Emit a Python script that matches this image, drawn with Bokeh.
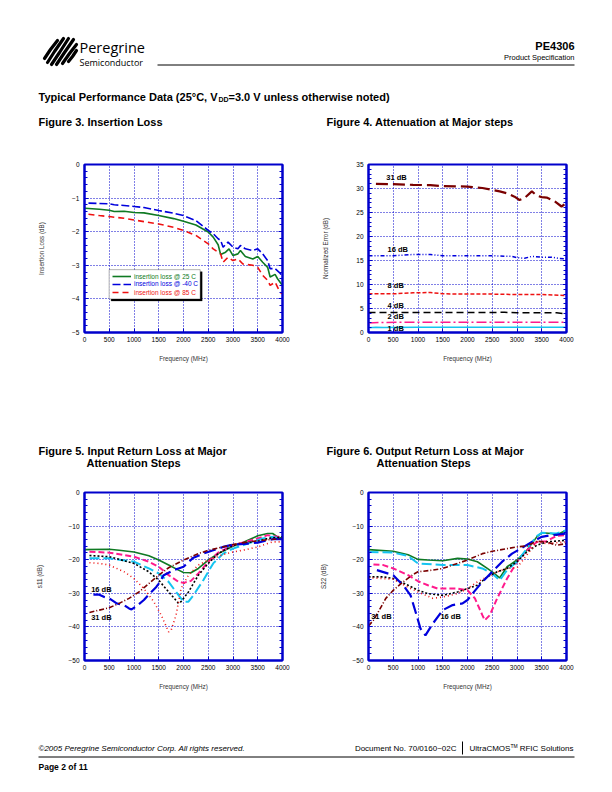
from bokeh.plotting import figure
from bokeh.layouts import column, row
from bokeh.models import Range1d, FixedTicker, LinearAxis, BoxAnnotation, Legend, LegendItem
from bokeh.embed import file_html
from bokeh.resources import INLINE
from bokeh.core.properties import value

FONT = "Liberation Sans"
BLUE_FRAME = "#0000cc"

# ---------------- data: Figure 3 insertion loss ----------------
IL_FREQ_25 = [10, 300, 500, 600, 800, 1000, 1200, 1500, 1800, 2000, 2250, 2500, 2600, 2700, 2750, 2850, 2920, 3000, 3100, 3150, 3250, 3400, 3500, 3600, 3700, 3750, 3850, 3900, 4000]
IL_25 = [-1.30, -1.33, -1.36, -1.40, -1.39, -1.43, -1.44, -1.52, -1.61, -1.69, -1.80, -2.01, -2.16, -2.39, -2.68, -2.61, -2.51, -2.71, -2.66, -2.56, -2.74, -2.81, -2.74, -2.91, -3.06, -3.35, -3.27, -3.40, -3.60]
IL_FREQ_M40 = [80, 300, 500, 600, 800, 1000, 1200, 1500, 1800, 2000, 2250, 2500, 2600, 2700, 2750, 2800, 2900, 3000, 3100, 3150, 3250, 3400, 3500, 3600, 3700, 3750, 3850, 3950, 4000]
IL_M40 = [-1.15, -1.16, -1.17, -1.20, -1.22, -1.25, -1.28, -1.37, -1.45, -1.52, -1.67, -1.96, -2.06, -2.21, -2.26, -2.46, -2.31, -2.46, -2.51, -2.41, -2.51, -2.56, -2.51, -2.66, -2.86, -3.10, -3.10, -3.23, -3.35]
IL_FREQ_85 = [80, 300, 500, 600, 800, 1000, 1200, 1500, 1800, 2000, 2250, 2500, 2600, 2750, 2800, 2900, 3000, 3100, 3200, 3400, 3500, 3600, 3700, 3750, 3850, 3950, 4000]
IL_85 = [-1.48, -1.52, -1.55, -1.57, -1.60, -1.65, -1.70, -1.77, -1.87, -1.96, -2.11, -2.36, -2.51, -2.66, -2.91, -2.76, -2.86, -2.81, -2.96, -3.00, -3.06, -3.30, -3.45, -3.60, -3.50, -3.80, -3.85]
IL_LABELS = ["insertion loss @ 25 C", "insertion loss @ -40 C", "insertion loss @ 85 C"]

# ---------------- data: Figure 4 attenuation ----------------
AT_FREQ_31 = [150, 500, 900, 1250, 1500, 2000, 2100, 2300, 2500, 2650, 2800, 2950, 3050, 3150, 3300, 3400, 3500, 3600, 3750, 3900, 4000]
AT_31 = [30.97, 30.9, 30.76, 30.7, 30.5, 30.4, 30.3, 30.1, 29.7, 29.4, 29.0, 28.3, 27.6, 28.0, 29.4, 28.5, 28.2, 28.1, 27.4, 26.25, 27.0]
AT_FREQ_16 = [0, 500, 900, 1250, 1500, 2000, 2500, 2900, 3000, 3150, 3300, 3500, 3700, 3850, 4000]
AT_16 = [16.0, 16.0, 16.25, 16.25, 16.0, 16.0, 16.0, 15.85, 15.6, 15.45, 15.85, 15.7, 15.7, 15.45, 15.35]
AT_FREQ_8 = [0, 500, 900, 1250, 1500, 2000, 2500, 3000, 3500, 4000]
AT_8 = [8.06, 8.06, 8.26, 8.33, 8.06, 8.0, 8.0, 7.9, 7.9, 7.7]
AT_FREQ_4 = [0, 1000, 2000, 2750, 3000, 3500, 3800, 4000]
AT_4 = [4.15, 4.15, 4.15, 4.2, 4.1, 4.1, 4.1, 3.9]
AT_FREQ_2 = [0, 300, 1000, 2000, 3000, 4000]
AT_2 = [2.0, 2.1, 2.15, 2.15, 2.15, 2.15]
AT_FREQ_1 = [0, 150, 300, 1000, 2000, 3000, 4000]
AT_1 = [1.0, 1.1, 1.05, 1.1, 1.1, 1.1, 1.1]
AT_STEP_LABELS = ["31 dB", "16 dB", "8 dB", "4 dB", "2 dB", "1 dB"]

# ---------------- data: Figure 5 s11 ----------------
S11_F_GREEN = [0, 500, 700, 1000, 1300, 1500, 1700, 1900, 2000, 2150, 2300, 2500, 2700, 3000, 3200, 3500, 3700, 3800, 3900, 4000]
S11_GREEN = [-17.0, -16.9, -17.2, -17.7, -18.8, -20.1, -21.6, -23.1, -23.8, -23.9, -22.6, -20.1, -18.2, -16.0, -14.9, -12.9, -12.2, -12.2, -13.2, -13.7]
S11_F_PINK = [100, 500, 1000, 1300, 1500, 1700, 1900, 2000, 2150, 2300, 2500, 2700, 3000, 3300, 3500, 3700, 3900, 4000]
S11_PINK = [-17.6, -17.9, -19.1, -20.6, -22.1, -24.6, -26.6, -26.9, -26.3, -24.1, -20.6, -17.9, -15.7, -14.5, -13.7, -12.7, -13.2, -13.2]
S11_F_CYAN = [100, 500, 1000, 1300, 1500, 1700, 1850, 1950, 2000, 2100, 2200, 2400, 2600, 2800, 3000, 3300, 3600, 3800, 4000]
S11_CYAN = [-19.6, -19.6, -20.6, -22.6, -24.1, -26.6, -29.6, -31.5, -32.5, -32.5, -30.6, -26.1, -21.1, -18.2, -16.7, -15.2, -13.7, -13.2, -13.9]
S11_F_BLACK = [100, 500, 1000, 1300, 1500, 1700, 1900, 1950, 2100, 2300, 2500, 2700, 3000, 3300, 3500, 3700, 4000]
S11_BLACK = [-18.75, -19.1, -21.1, -23.6, -26.1, -29.6, -33.0, -32.5, -29.6, -24.6, -21.1, -18.2, -15.7, -14.9, -14.5, -13.7, -13.2]
S11_F_RED = [100, 300, 500, 800, 1000, 1200, 1400, 1550, 1700, 1750, 1850, 1950, 2100, 2300, 2500, 2800, 3000, 3200, 3500, 3800, 4000]
S11_RED = [-20.9, -21.1, -21.6, -23.6, -25.6, -28.6, -32.5, -36.5, -41.5, -41.0, -36.5, -28.6, -24.6, -21.6, -20.1, -18.5, -17.7, -17.2, -16.2, -14.7, -14.7]
S11_F_16DB = [180, 300, 400, 500, 650, 800, 900, 950, 1050, 1200, 1350, 1450, 1500, 1600, 1800, 1900, 2000, 2200, 2400, 2600, 2800, 3000, 3300, 3500, 3800, 4000]
S11_16DB = [-30.4, -30.4, -31.1, -31.5, -33.0, -33.5, -34.5, -34.8, -33.8, -32.0, -29.6, -28.1, -27.1, -24.6, -23.1, -22.6, -22.1, -19.4, -18.2, -17.2, -16.2, -15.5, -15.2, -14.9, -13.9, -13.9]
S11_F_31DB = [100, 300, 500, 700, 900, 1100, 1300, 1500, 1700, 2000, 2300, 2500, 2800, 3000, 3300, 3600, 4000]
S11_31DB = [-35.7, -35.0, -34.3, -33.0, -31.5, -29.6, -27.1, -24.6, -22.4, -20.1, -18.2, -17.2, -16.2, -15.5, -14.7, -14.2, -13.7]

# ---------------- data: Figure 6 S22 ----------------
S22_F_GREEN = [0, 500, 800, 1000, 1200, 1500, 1800, 2000, 2200, 2400, 2500, 2650, 2800, 3000, 3200, 3400, 3500, 3700, 3800, 3900, 4000]
S22_GREEN = [-17.0, -17.5, -18.5, -19.9, -20.1, -20.3, -19.6, -19.8, -20.6, -22.6, -23.6, -25.4, -22.1, -20.1, -17.2, -13.2, -12.0, -12.2, -12.7, -11.9, -11.2]
S22_F_CYAN = [0, 500, 800, 1000, 1500, 2000, 2300, 2500, 2650, 2800, 3000, 3200, 3400, 3500, 3800, 4000]
S22_CYAN = [-17.7, -17.9, -18.9, -21.1, -21.6, -21.6, -22.6, -24.1, -26.1, -23.1, -20.6, -16.7, -13.0, -12.0, -12.2, -11.2]
S22_F_PINK = [100, 300, 500, 800, 1000, 1200, 1400, 1800, 2000, 2150, 2300, 2350, 2450, 2600, 2800, 3000, 3200, 3400, 3600, 3800, 4000]
S22_PINK = [-21.4, -21.6, -22.6, -24.6, -26.4, -27.6, -28.6, -28.6, -29.1, -31.5, -36.5, -38.0, -36.5, -31.5, -25.6, -20.6, -17.2, -14.7, -14.5, -12.9, -12.7]
S22_F_BLACK = [0, 300, 500, 800, 1000, 1200, 1500, 1800, 2000, 2200, 2400, 2600, 2800, 3000, 3200, 3400, 3600, 4000]
S22_BLACK = [-25.1, -25.1, -25.6, -27.6, -29.1, -30.1, -30.6, -29.6, -28.6, -27.6, -25.1, -23.6, -22.6, -20.6, -17.7, -15.7, -14.7, -14.2]
S22_F_RED = [0, 300, 500, 800, 1000, 1300, 1500, 1800, 2000, 2200, 2400, 2600, 2800, 3000, 3200, 3400, 3600, 4000]
S22_RED = [-25.4, -25.6, -25.8, -28.2, -29.6, -31.5, -31.1, -30.1, -28.6, -26.6, -25.1, -23.6, -22.6, -22.4, -18.6, -14.7, -15.2, -14.7]
S22_F_16DB = [170, 500, 700, 850, 950, 1050, 1150, 1300, 1500, 1700, 1900, 2000, 2100, 2300, 2500, 2700, 2900, 3100, 3300, 3500, 3700, 4000]
S22_16DB = [-23.1, -24.6, -27.6, -30.6, -35.5, -40.5, -42.5, -39.0, -35.0, -33.5, -33.0, -32.0, -30.1, -26.6, -23.6, -20.6, -18.2, -16.5, -14.7, -13.2, -12.7, -12.2]
S22_F_31DB = [0, 100, 200, 350, 500, 700, 900, 1000, 1300, 1500, 1800, 2000, 2300, 2500, 2800, 3000, 3200, 3400, 3600, 3800, 4000]
S22_31DB = [-39.7, -38.0, -35.5, -31.5, -29.1, -26.6, -24.4, -23.6, -23.1, -22.6, -21.1, -20.1, -18.2, -17.5, -16.7, -16.2, -15.9, -14.5, -14.7, -15.7, -15.2]

FREQ_TICKS = [0, 500, 1000, 1500, 2000, 2500, 3000, 3500, 4000]

PAGE_W = 612


def text_fig(width, height, y0):
    p = figure(width=width, height=height, x_range=Range1d(0, width),
               y_range=Range1d(y0 + height, y0), output_backend="svg",
               toolbar_location=None, x_axis_location=None, y_axis_location=None,
               min_border=0)
    p.grid.visible = False
    p.outline_line_color = None
    return p


def put(p, x, y, s, size, style="normal", align="left", color="black", font=FONT):
    p.text(x=[x], y=[y], text=[s], text_font=value(font), text_font_size=size,
           text_font_style=style, text_align=align, text_baseline="middle",
           text_color=color)


def chart(width, height, borders, yr, yticks, yminor, ylabel, ylab_standoff):
    p = figure(width=width, height=height, x_range=Range1d(0, 4000),
               y_range=Range1d(*yr), output_backend="svg", toolbar_location=None,
               min_border_left=borders[0], min_border_right=borders[1],
               min_border_top=borders[2], min_border_bottom=borders[3])
    p.outline_line_color = BLUE_FRAME
    p.outline_line_width = 2
    xt = FixedTicker(ticks=FREQ_TICKS)
    yt = FixedTicker(ticks=yticks, minor_ticks=yminor)
    p.xaxis.ticker = xt
    p.yaxis.ticker = yt
    p.xgrid.ticker = xt
    p.ygrid.ticker = yt
    for g in (p.xgrid, p.ygrid):
        g.grid_line_color = BLUE_FRAME
        g.grid_line_dash = "1 2"
        g.grid_line_width = 1
    for ax in (p.xaxis, p.yaxis):
        ax.axis_line_color = BLUE_FRAME
        ax.axis_line_width = 2
        ax.major_tick_line_color = BLUE_FRAME
        ax.minor_tick_line_color = BLUE_FRAME
        ax.major_tick_in = 4
        ax.major_tick_out = 0
        ax.minor_tick_in = 3
        ax.minor_tick_out = 0
        ax.major_label_text_font = FONT
        ax.major_label_text_font_size = "6.5px"
        ax.major_label_text_color = "black"
        ax.axis_label_text_font = FONT
        ax.axis_label_text_font_size = "6.3px"
        ax.axis_label_text_font_style = "normal"
        ax.axis_label_text_color = "#333333"
    p.xaxis.minor_tick_line_color = None
    p.xaxis.major_label_standoff = 4
    p.yaxis.major_label_standoff = 5
    p.xaxis.axis_label = "Frequency (MHz)"
    p.xaxis.axis_label_standoff = 10
    p.yaxis.axis_label = ylabel
    p.yaxis.axis_label_standoff = ylab_standoff
    r = LinearAxis(ticker=yt, axis_line_color=BLUE_FRAME, axis_line_width=2,
                   major_tick_line_color=BLUE_FRAME, minor_tick_line_color=BLUE_FRAME,
                   major_tick_in=4, major_tick_out=0, minor_tick_in=3, minor_tick_out=0,
                   major_label_text_color=None, major_label_text_font_size="6px",
                   major_label_standoff=0)
    p.add_layout(r, "right")
    return p


def lbl(p, x, y, s, size="7.5px"):
    p.text(x=[x], y=[y], text=[s], text_font=value(FONT), text_font_size=size,
           text_font_style="bold", text_align="left", text_baseline="middle",
           text_color="black")


C_GREEN = "#0f7a23"
C_BLUE = "#0000dd"
C_RED = "#ee1111"
C_MAROON = "#7a0000"
C_PINK = "#ff1a8c"
C_CYAN = "#14c4f0"

# ---------------- header ----------------
hdr = text_fig(PAGE_W, 140, 0)
strokes_x = [[44, 50, 57], [47, 54, 63], [51, 59, 68], [56, 64, 73], [62, 69, 76], [68, 72, 76]]
strokes_y = [[58, 49, 40], [62, 51, 38], [64, 52, 38], [64, 52, 39], [63, 53, 44], [61, 56, 50]]
hdr.multi_line(xs=strokes_x, ys=strokes_y, line_color="black", line_width=3.2, line_cap="round")
put(hdr, 79, 47, "Peregrine", "14.5px", font="Open Sans")
put(hdr, 79, 62, "Semiconductor", "9px", font="Open Sans")
put(hdr, 574, 45, "PE4306", "11px", "bold", "right")
put(hdr, 574, 57, "Product Specification", "7.5px", "normal", "right")
hdr.segment(x0=[157], y0=[64.5], x1=[574], y1=[64.5], line_color="black", line_width=1)
put(hdr, 38, 96, "Typical Performance Data (25\u00b0C, V", "11px", "bold")
put(hdr, 218, 98.5, "DD", "7px", "bold")
put(hdr, 228, 96, "=3.0 V unless otherwise noted)", "11px", "bold")
put(hdr, 38, 121, "Figure 3. Insertion Loss", "11px", "bold")
put(hdr, 326, 121, "Figure 4.  Attenuation at Major steps", "11px", "bold")

# ---------------- Figure 3 ----------------
f3 = chart(306, 240, (84, 24, 24, 48), (-5, 0), [-5, -4, -3, -2, -1, 0],
           [-5 + 0.2 * i for i in range(26)], "Insertion Loss (dB)", 24)
r25 = f3.line(IL_FREQ_25, IL_25, line_color=C_GREEN, line_width=1.6)
rm40 = f3.line(IL_FREQ_M40, IL_M40, line_color=C_BLUE, line_width=1.6, line_dash="8 3")
r85 = f3.line(IL_FREQ_85, IL_85, line_color=C_RED, line_width=1.6, line_dash="6 4")
f3.add_layout(BoxAnnotation(left=538, right=2377, top=-3.19, bottom=-4.06,
                            fill_color="black", fill_alpha=1, line_color="black"))
f3.add_layout(BoxAnnotation(left=498, right=2337, top=-3.13, bottom=-4.0,
                            fill_color="white", fill_alpha=1, line_color="black", line_width=1))
for rend, lab, col, by in ((r25, IL_LABELS[0], C_GREEN, 52), (rm40, IL_LABELS[1], C_BLUE, 44.3),
                           (r85, IL_LABELS[2], C_RED, 36)):
    lg = Legend(items=[LegendItem(label=lab, renderers=[rend])], location=(28, by),
                margin=0, padding=0, spacing=0, glyph_width=19, glyph_height=8,
                label_height=8, label_standoff=3, border_line_color=None,
                background_fill_alpha=0, label_text_font=FONT,
                label_text_font_size="6.5px", label_text_color=col)
    f3.add_layout(lg)

# ---------------- Figure 4 ----------------
f4 = chart(306, 240, (62, 46, 24, 48), (0, 35), [0, 5, 10, 15, 20, 25, 30, 35],
           list(range(0, 36)), "Normalized Error (dB)", 24)
f4.line(AT_FREQ_31, AT_31, line_color=C_MAROON, line_width=2.2, line_dash="12 5")
f4.line(AT_FREQ_16, AT_16, line_color=C_BLUE, line_width=1.5, line_dash="4 2 1 2 1 2")
f4.line(AT_FREQ_8, AT_8, line_color=C_RED, line_width=1.5, line_dash="4 2")
f4.line(AT_FREQ_4, AT_4, line_color="black", line_width=1.5, line_dash="7 4")
f4.line(AT_FREQ_2, AT_2, line_color=C_PINK, line_width=1.5, line_dash="10 3 2 3")
f4.line(AT_FREQ_1, AT_1, line_color=C_CYAN, line_width=1.6)
lbl(f4, 358, 32.2, AT_STEP_LABELS[0])
lbl(f4, 385, 17.2, AT_STEP_LABELS[1])
lbl(f4, 385, 9.8, AT_STEP_LABELS[2])
lbl(f4, 385, 5.6, AT_STEP_LABELS[3])
lbl(f4, 385, 3.3, AT_STEP_LABELS[4])
lbl(f4, 385, 0.8, AT_STEP_LABELS[5])

# ---------------- mid captions ----------------
mid = text_fig(PAGE_W, 90, 380)
put(mid, 38, 450, "Figure 5. Input Return Loss at Major", "11px", "bold")
put(mid, 86, 462, "Attenuation Steps", "11px", "bold")
put(mid, 326, 450, "Figure 6. Output Return Loss at Major", "11px", "bold")
put(mid, 376, 462, "Attenuation Steps", "11px", "bold")


def return_loss(fig, series):
    styles = [
        dict(line_color=C_GREEN, line_width=1.6),
        dict(line_color=C_PINK, line_width=2, line_dash="6 3"),
        dict(line_color=C_CYAN, line_width=2, line_dash="10 4"),
        dict(line_color="black", line_width=1.6, line_dash="2 2"),
        dict(line_color=C_RED, line_width=1.6, line_dash="1 3"),
        dict(line_color=C_BLUE, line_width=2.2, line_dash="12 5"),
        dict(line_color=C_MAROON, line_width=1.6, line_dash="5 2 1 2"),
    ]
    for (fx, fy), st in zip(series, styles):
        fig.line(fx, fy, **st)


# ---------------- Figure 5 ----------------
f5 = chart(306, 230, (84, 24, 22, 40), (-50, 0), [-50, -40, -30, -20, -10, 0],
           list(range(-50, 1, 2)), "s11 (dB)", 22)
return_loss(f5, [(S11_F_GREEN, S11_GREEN), (S11_F_PINK, S11_PINK), (S11_F_CYAN, S11_CYAN),
                 (S11_F_BLACK, S11_BLACK), (S11_F_RED, S11_RED), (S11_F_16DB, S11_16DB),
                 (S11_F_31DB, S11_31DB)])
lbl(f5, 135, -28.8, "16 dB")
lbl(f5, 135, -37.3, "31 dB")

# ---------------- Figure 6 ----------------
f6 = chart(306, 230, (62, 46, 22, 40), (-50, 0), [-50, -40, -30, -20, -10, 0],
           list(range(-50, 1, 2)), "S22 (dB)", 22)
return_loss(f6, [(S22_F_GREEN, S22_GREEN), (S22_F_PINK, S22_PINK), (S22_F_CYAN, S22_CYAN),
                 (S22_F_BLACK, S22_BLACK), (S22_F_RED, S22_RED), (S22_F_16DB, S22_16DB),
                 (S22_F_31DB, S22_31DB)])
lbl(f6, 54, -37.0, "31 dB")
lbl(f6, 1453, -37.0, "16 dB")

# ---------------- footer ----------------
ftr = text_fig(PAGE_W, 92, 700)
put(ftr, 38, 748, "\u00a92005 Peregrine Semiconductor Corp.  All rights reserved.", "8px", "italic")
put(ftr, 456, 748, "Document No. 70/0160~02C", "8px", "normal", "right")
ftr.segment(x0=[462], y0=[741], x1=[462], y1=[754], line_color="black", line_width=1)
put(ftr, 469, 748, "UltraCMOS", "8px", "normal", "left")
put(ftr, 510, 745, "TM", "5px", "normal", "left")
put(ftr, 573, 748, "RFIC Solutions", "8px", "normal", "right")
ftr.segment(x0=[38], y0=[756.5], x1=[574], y1=[756.5], line_color="black", line_width=1)
put(ftr, 38, 766, "Page  2 of 11", "8.5px", "bold")

layout = column(hdr, row(f3, f4, spacing=0), mid, row(f5, f6, spacing=0), ftr, spacing=0)
open("out.html", "w").write(file_html(layout, INLINE))
